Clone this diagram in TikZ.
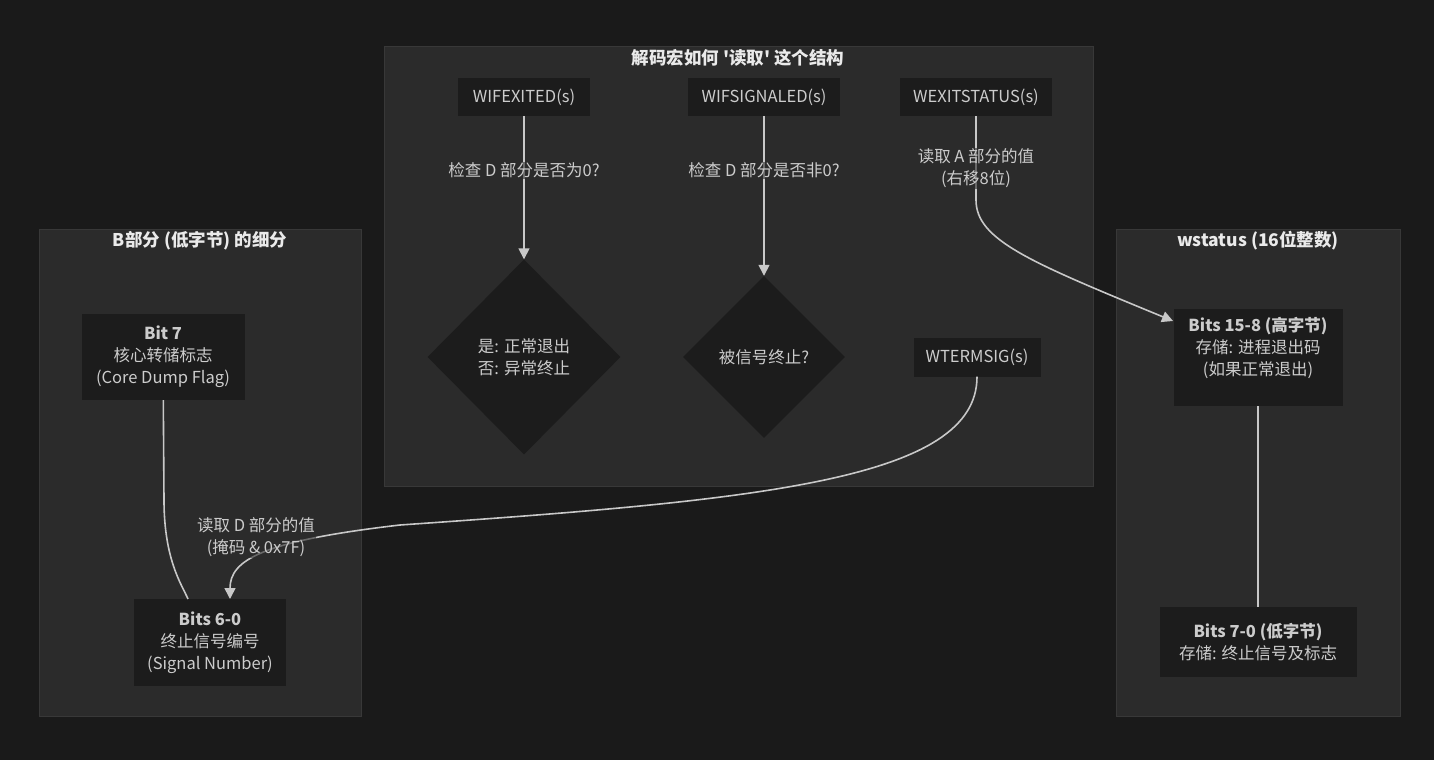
\documentclass[tikz,border=0pt]{standalone}
\usepackage{fontspec}
\setmainfont{Noto Sans CJK SC}
\usetikzlibrary{shapes.geometric, arrows.meta, positioning}

\definecolor{canvas}{HTML}{1A1A1A}
\definecolor{clusterfill}{HTML}{2B2B2B}
\definecolor{clusterline}{HTML}{383838}
\definecolor{boxfill}{HTML}{1C1C1C}
\definecolor{wire}{HTML}{C8C8C8}
\definecolor{ink}{HTML}{CCCCCC}
\definecolor{headink}{HTML}{EAEAEA}

\tikzset{
  cluster/.style={fill=clusterfill, draw=clusterline, line width=1pt},
  heading/.style={text=headink, inner sep=0pt, font=\bfseries\fontsize{17.5}{18}\selectfont},
  box/.style={fill=boxfill, text=ink, align=center, inner sep=0pt, font=\fontsize{16.5}{22}\selectfont},
  choice/.style={diamond, fill=boxfill, text=ink, align=center, inner sep=0pt, font=\fontsize{16.5}{22}\selectfont},
  link/.style={draw=wire, line width=1.6pt},
  elabel/.style={fill=clusterfill, fill opacity=0.6, text opacity=1, text=ink, align=center, inner sep=1pt, font=\fontsize{16.5}{22}\selectfont},
  >={Triangle[length=11pt, width=11pt]}
}

\begin{document}
\begin{tikzpicture}[x=1pt, y=-1pt]
    \fill[canvas] (0,0) rectangle (1434,760);
    \useasboundingbox (0,0) rectangle (1434,760);

    % subgraphs
    \draw[cluster] (384,47) rectangle (1093,486);
    \draw[cluster] (39,229) rectangle (361,716);
    \draw[cluster] (1116,229) rectangle (1400,716);
    \node[heading] (macrostitle) at (738,58) {解码宏如何 \textquotesingle 读取\textquotesingle{} 这个结构};
    \node[heading] (lowtitle) at (200,241) {B部分 (低字节) 的细分};
    \node[heading] (wstatustitle) at (1258,241) {wstatus (16位整数)};

    % macros
    \node[box, minimum width=132pt, minimum height=38pt] (wexited) at (524,97) {WIFEXITED(s)};
    \node[box, minimum width=152pt, minimum height=38pt] (wsignaled) at (764,97) {WIFSIGNALED(s)};
    \node[box, minimum width=152pt, minimum height=38pt] (wexitstatus) at (976,97) {WEXITSTATUS(s)};
    \node[box, minimum width=127pt, minimum height=39pt] (wtermsig) at (977,357) {WTERMSIG(s)};
    \node[choice, minimum width=193pt, minimum height=195pt] (exitcheck) at (524,357) {是: 正常退出\\否: 异常终止};
    \node[choice, minimum width=162pt, minimum height=162pt] (sigcheck) at (764,357) {被信号终止?};

    % wstatus
    \node[box, minimum width=169pt, minimum height=97pt] (highbyte) at (1258,357.5) {\textbf{Bits 15-8 (高字节)}\\存储: 进程退出码\\(如果正常退出)\\\mbox{}};
    \node[box, minimum width=197pt, minimum height=70pt] (lowbyte) at (1258,642) {\textbf{Bits 7-0 (低字节)}\\存储: 终止信号及标志};

    % low byte
    \node[box, minimum width=163pt, minimum height=86pt] (bit7) at (163,357) {\textbf{Bit 7}\\核心转储标志\\(Core Dump Flag)};
    \node[box, minimum width=152pt, minimum height=87pt] (bits60) at (210,642.5) {\textbf{Bits 6-0}\\终止信号编号\\(Signal Number)};

    \coordinate (highin) at (1173,321);
    \coordinate (sigin) at (230,599);
    \coordinate (bit7out) at (188,599);

    \draw[link, ->] (wexited) -- node[elabel, pos=0.38]{检查 D 部分是否为0?} (exitcheck);
    \draw[link, ->] (wsignaled) -- node[elabel, pos=0.34]{检查 D 部分是否非0?} (sigcheck);
    \draw[link, ->] (wexitstatus) -- node[elabel, pos=0.62]{读取 A 部分的值\\(右移8位)} (976,200)
        .. controls (976,240) and (1030,262) .. (highin);
    \draw[link, ->] (wtermsig) .. controls (977,480) and (760,500) .. (400,525)
        .. controls (262,541) and (230,560) .. (sigin);
    \draw[link] (bit7) -- (164,500) .. controls (164,560) and (182,585) .. (bit7out);
    \draw[link] (highbyte) -- (lowbyte);
    \node[elabel] (readlow) at (256,537) {读取 D 部分的值\\(掩码 \& 0x7F)};
\end{tikzpicture}
\end{document}
